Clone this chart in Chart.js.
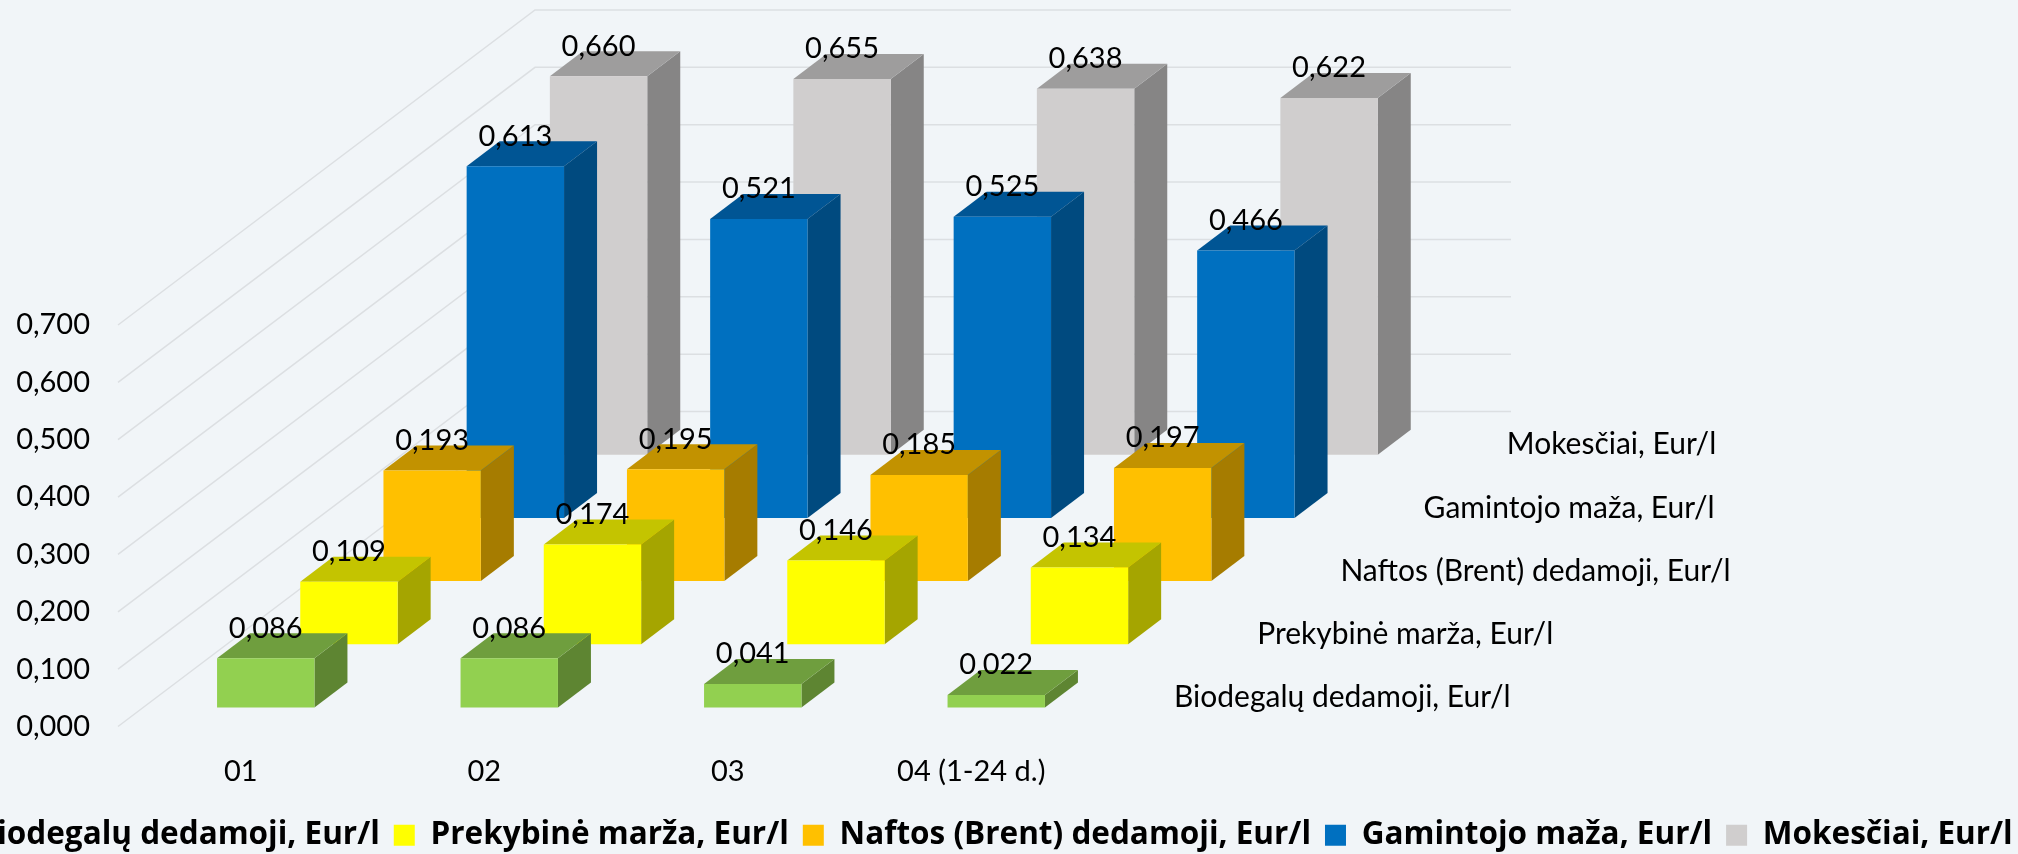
<!DOCTYPE html>
<html><head><meta charset="utf-8">
<style>
html,body{margin:0;padding:0;width:2018px;height:854px;overflow:hidden;background:#F1F5F8}
#wrap{position:absolute;left:-174px;top:0;width:2300px;height:861px}
canvas{display:block}
</style>
<script src="https://cdn.jsdelivr.net/npm/chart.js@4/dist/chart.umd.min.js"></script>
</head><body><div id="wrap"><canvas id="c" width="2300" height="861" style="width:2300px;height:861px"></canvas></div>
<script>
const categories = ['01','02','03','04 (1-24 d.)'];
const seriesNames = ['Biodegalų dedamoji, Eur/l','Prekybinė marža, Eur/l','Naftos (Brent) dedamoji, Eur/l','Gamintojo maža, Eur/l','Mokesčiai, Eur/l'];
const biodegalai = [0.086,0.086,0.041,0.022];
const prekybine  = [0.109,0.174,0.146,0.134];
const naftos     = [0.193,0.195,0.185,0.197];
const gamintojo  = [0.613,0.521,0.525,0.466];
const mokesciai  = [0.660,0.655,0.638,0.622];
const seriesValues = [biodegalai,prekybine,naftos,gamintojo,mokesciai];
const frontColors = ['#92D050','#FFFF00','#FFC000','#0070C0','#D0CECE'];
const topColors   = ['#6F9E3E','#C4C400','#C29200','#005594','#9E9D9D'];
const sideColors  = ['#5E8532','#A5A500','#A67C00','#004A7F','#868585'];

const FONT = 'Lato, Carlito, Calibri, sans-serif';
const FS = 29;
const fmt = v => Number(v).toFixed(3).replace('.',',');
// 3D projection
const stepX=83.2, stepY=63.2, firstX=25, firstY=19, faceX=33, faceY=25, wallX=417, wallY=315;
const off = i => ({dx:firstX+stepX*i, dy:-(firstY+stepY*i)});

const depth3d = {
  id:'depth3d',
  beforeDatasetsDraw(chart){
    const {ctx,scales:{x,y}}=chart;
    ctx.save();
    ctx.strokeStyle='#DCDFE2';ctx.lineWidth=1.5;
    y.ticks.forEach(t=>{
      const p=y.getPixelForValue(t.value);
      ctx.beginPath();
      ctx.moveTo(x.left-1,p);
      ctx.lineTo(x.left-1+wallX,p-wallY);
      ctx.lineTo(x.right+418,p-wallY);
      ctx.stroke();
    });
    ctx.restore();
  },
  beforeDatasetDraw(chart,args){
    const {ctx}=chart, i=args.index, o=off(i);
    ctx.save();
    ctx.translate(o.dx,o.dy);
    args.meta.data.forEach(b=>{
      const r=b.x+b.width/2,l=b.x-b.width/2;
      ctx.fillStyle=sideColors[i];
      ctx.beginPath();ctx.moveTo(r,b.y);ctx.lineTo(r+faceX,b.y-faceY);ctx.lineTo(r+faceX,b.base-faceY);ctx.lineTo(r,b.base);ctx.closePath();ctx.fill();
      ctx.fillStyle=topColors[i];
      ctx.beginPath();ctx.moveTo(l,b.y);ctx.lineTo(l+faceX,b.y-faceY);ctx.lineTo(r+faceX,b.y-faceY);ctx.lineTo(r,b.y);ctx.closePath();ctx.fill();
    });
  },
  afterDatasetDraw(chart){chart.ctx.restore();},
  afterDatasetsDraw(chart){
    const {ctx,scales:{x,y}}=chart;
    ctx.save();
    ctx.fillStyle='#000';ctx.font=FS+'px '+FONT;ctx.textBaseline='middle';
    ctx.textAlign='center';
    for(let i=seriesValues.length-1;i>=0;i--){
      const o=off(i);
      chart.getDatasetMeta(i).data.forEach((b,k)=>{
        ctx.fillText(fmt(seriesValues[i][k]),b.x+o.dx,b.y+o.dy-30);
      });
    }
    ctx.textAlign='left';
    ctx.font='30px '+FONT;
    seriesNames.forEach((n,i)=>{
      const o=off(i);
      ctx.fillText(n,x.right+56+o.dx,y.getPixelForValue(0)+o.dy-10);
    });
    ctx.restore();
  }
};

new Chart(document.getElementById('c'),{
  type:'bar',
  data:{labels:categories,datasets:seriesValues.map((v,i)=>({
    label:seriesNames[i],data:v,backgroundColor:frontColors[i],borderWidth:0,
    grouped:false,barPercentage:0.4,categoryPercentage:1,clip:false
  }))},
  plugins:[depth3d],
  options:{
    responsive:false,animation:false,
    layout:{padding:{top:325,left:0,right:0,bottom:0}},
    plugins:{
      tooltip:{enabled:false},title:{display:false},
      legend:{display:true,position:'bottom',labels:{
        color:'#000',boxWidth:21,boxHeight:21,padding:14,
        font:{family:'"Open Sans", sans-serif',size:31.5,weight:'bold'}
      }}
    },
    scales:{
      x:{type:'category',offset:true,grid:{display:false},border:{display:false},
        ticks:{color:'#000',font:{family:FONT,size:FS},padding:20,maxRotation:0,autoSkip:false},
        afterFit(s){s.height=79;}},
      y:{type:'linear',min:0,max:0.7,grid:{display:false},border:{display:false},
        ticks:{stepSize:0.1,color:'#000',font:{family:FONT,size:FS},padding:21,callback:v=>fmt(v)},
        afterFit(s){s.width=293;}},
      spacer:{type:'linear',position:'right',min:0,max:1,display:true,grid:{display:false},border:{display:false},
        ticks:{display:false},afterFit(s){s.width=1033;}}
    }
  }
});
</script></body></html>
